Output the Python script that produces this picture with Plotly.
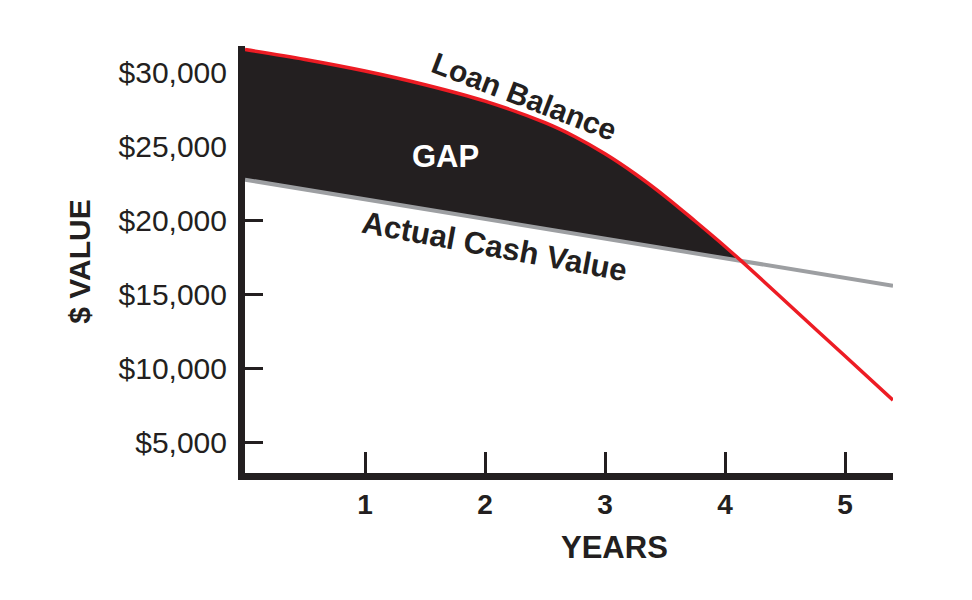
import plotly.graph_objects as go

# ---- data ----
loan_years = [0, 0.5, 1, 1.5, 2, 2.5, 2.75, 3, 3.25, 3.5, 3.75, 4, 4.14, 4.5, 5, 5.4]
loan_balance = [31550, 30880, 30100, 29170, 28060, 26600, 25650, 24500, 23150, 21625,
                19950, 18230, 17220, 14540, 10815, 7835]

acv_years = [0, 5.4]
actual_cash_value = [22750, 15570]

cross_year = 4.14          # where the two curves meet
cross_value = 17220

y_tick_vals = [5000, 10000, 15000, 20000, 25000, 30000]
y_tick_text = ["$5,000", "$10,000", "$15,000", "$20,000", "$25,000", "$30,000"]
x_tick_vals = [1, 2, 3, 4, 5]
x_tick_text = ["1", "2", "3", "4", "5"]

INK = "#231f20"
RED = "#ed1c24"
GREY = "#9d9fa2"
FONT = "Liberation Sans, Arial, sans-serif"

# gap region: loan balance above actual cash value, up to the crossing
gap_years = [y for y in loan_years if y < cross_year] + [cross_year]
gap_loan = [v for y, v in zip(loan_years, loan_balance) if y < cross_year] + [cross_value]
gap_acv_years = [acv_years[0], cross_year]
gap_acv = [actual_cash_value[0], cross_value]

fig = go.Figure()
fig.add_trace(go.Scatter(x=gap_acv_years, y=gap_acv, mode="lines",
                         line=dict(width=0, color=GREY), hoverinfo="skip", showlegend=False))
fig.add_trace(go.Scatter(x=gap_years, y=gap_loan, mode="lines", fill="tonexty",
                         fillcolor=INK, line=dict(width=0, color=INK, shape="spline", smoothing=1),
                         hoverinfo="skip", showlegend=False))
fig.add_trace(go.Scatter(x=acv_years, y=actual_cash_value, mode="lines",
                         line=dict(width=4, color=GREY), name="Actual Cash Value", showlegend=False))
fig.add_trace(go.Scatter(x=loan_years, y=loan_balance, mode="lines",
                         line=dict(width=3.5, color=RED, shape="spline", smoothing=1),
                         name="Loan Balance", showlegend=False))

OFF = 8  # page body margin
W, H = 972, 600
# desired page-pixel plot box
PL, PR, PT, PB = 245, 893, 46, 473.5
L, R, T, B = PL - OFF, PR - OFF, PT - OFF, PB - OFF

fig.update_layout(
    width=W, height=H,
    margin=dict(l=L, r=W - R, t=T, b=H - B, pad=0),
    plot_bgcolor="white", paper_bgcolor="white",
    font=dict(family=FONT, color=INK),
    showlegend=False,
    xaxis=dict(range=[0, 5.4], showgrid=False, zeroline=False,
               showline=True, linewidth=7, linecolor=INK,
               ticks="inside", ticklen=21, tickwidth=3, tickcolor=INK,
               tickvals=x_tick_vals, ticktext=x_tick_text,
               tickfont=dict(family=FONT, size=28, color=INK, weight="bold"),
               layer="below traces", fixedrange=True),
    yaxis=dict(range=[2905, 31790], showgrid=False, zeroline=False,
               showline=True, linewidth=7, linecolor=INK,
               ticks="inside", ticklen=18, tickwidth=3, tickcolor=INK,
               tickvals=y_tick_vals, ticktext=y_tick_text,
               tickfont=dict(family=FONT, size=30, color=INK),
               ticklabelstandoff=5,
               layer="below traces", fixedrange=True),
)

pw, ph = PR - PL, PB - PT
def px(x):
    return (x - PL) / pw
def py(y):
    return (PB - y) / ph

annots = [
    dict(text="<b>Loan Balance</b>", x=2.33, y=28400, xref="x", yref="y",
         textangle=21, font=dict(size=30, color=INK)),
    dict(text="<b>Actual Cash Value</b>", x=2.08, y=18200, xref="x", yref="y",
         textangle=10.5, font=dict(size=31, color=INK)),
    dict(text="<b>GAP</b>", x=1.67, y=24300, xref="x", yref="y",
         font=dict(size=31, color="white")),
    dict(text="<b>YEARS</b>", x=px(614), y=py(548), xref="paper", yref="paper",
         font=dict(size=31, color=INK)),
    dict(text="<b>$ VALUE</b>", x=px(80), y=py(262), xref="paper", yref="paper",
         textangle=-90, font=dict(size=30, color=INK)),
]
for a in annots:
    a.update(showarrow=False, xanchor="center", yanchor="middle")
    fig.add_annotation(**a)

fig.write_html("out.html")
